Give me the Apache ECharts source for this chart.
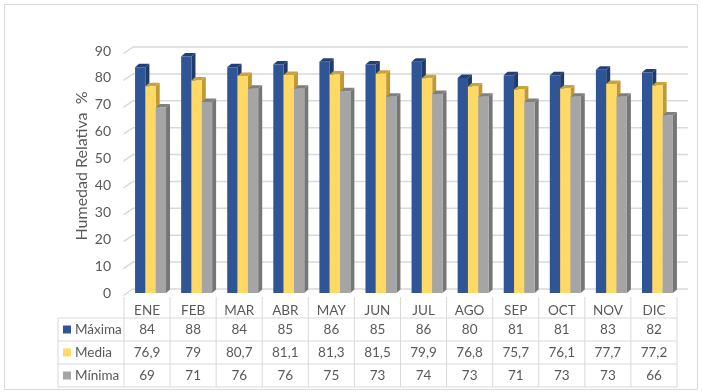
<!DOCTYPE html>
<html><head><meta charset="utf-8">
<script src="https://cdn.jsdelivr.net/npm/echarts@6/dist/echarts.min.js"></script>
<style>html,body{margin:0;padding:0;background:#fff}#c{width:702px;height:392px}</style>
</head><body><div id="c"></div>
<script>
var categories = ['ENE','FEB','MAR','ABR','MAY','JUN','JUL','AGO','SEP','OCT','NOV','DIC'];
var maxima = [84,88,84,85,86,85,86,80,81,81,83,82];
var media  = [76.9,79,80.7,81.1,81.3,81.5,79.9,76.8,75.7,76.1,77.7,77.2];
var minima = [69,71,76,76,75,73,74,73,71,73,73,66];
var seriesNames = ['Máxima','Media','Mínima'];
var yTicks = [0,10,20,30,40,50,60,70,80,90];

var FRONT = ['#2F5597','#FFD966','#A5A5A5'];
var SIDE  = ['#1F3A6B','#BF9A33','#767676'];
var TOP   = ['#243F73','#C9A43C','#808080'];
var TXT = '#595959', LINE = '#D9D9D9';
var FONT = 'Lato';
var allData = [maxima, media, minima];
function fmt(v){ return String(v).replace('.', ','); }

var chart = echarts.init(document.getElementById('c'));

function barRender(k){
  return function(params, api){
    var i = api.value(0), v = api.value(1);
    var top = api.coord([i, v]), base = api.coord([i, 0]);
    var cw = api.size([1, 0])[0];
    var w = cw * 0.224;
    var x0 = top[0] - cw * 0.26 + k * w;
    var dx = 4, dy = 3.5;
    var y0 = top[1], y1 = base[1];
    return {type:'group', children:[
      {type:'polygon', shape:{points:[[x0+w,y0],[x0+w+dx,y0-dy],[x0+w+dx,y1-dy],[x0+w,y1]]}, style:{fill:SIDE[k]}},
      {type:'polygon', shape:{points:[[x0,y0],[x0+dx,y0-dy],[x0+w+dx,y0-dy],[x0+w,y0]]}, style:{fill:TOP[k]}},
      {type:'rect', shape:{x:x0, y:y0, width:w, height:y1-y0}, style:{fill:FRONT[k]}}
    ]};
  };
}

function gridRender(params, api){
  var cs = params.coordSys;
  var y = api.coord([0, api.value(0)])[1];
  var x = cs.x, xr = cs.x + cs.width;
  return {type:'polyline', shape:{points:[[x-0.5, y+2.5],[x+9, y-4],[xr+11, y-4]]},
    style:{stroke:LINE, lineWidth:1.5, fill:null}, silent:true};
}

function tableRender(params, api){
  var i = api.value(0);
  var c = api.coord([i, 0]);
  var cw = api.size([1, 0])[0];
  var xl = c[0] - cw/2, xr = c[0] + cw/2;
  var b = c[1];
  var rows = [b+25, b+48, b+71, b+94];
  var ch = [];
  ch.push({type:'line', shape:{x1:xr, y1:b+4, x2:xr, y2:rows[3]}, style:{stroke:LINE, lineWidth:1}});
  if (i === 0) {
    ch.push({type:'line', shape:{x1:xl, y1:b+4, x2:xl, y2:rows[3]}, style:{stroke:LINE, lineWidth:1}});
    var lx = xl - 66;
    ch.push({type:'line', shape:{x1:lx, y1:rows[0], x2:lx, y2:rows[3]}, style:{stroke:LINE, lineWidth:1}});
    for (var r = 0; r < 4; r++) {
      ch.push({type:'line', shape:{x1:lx, y1:rows[r], x2:xl, y2:rows[r]}, style:{stroke:LINE, lineWidth:1}});
    }
    for (var k = 0; k < 3; k++) {
      var cy = (rows[k] + rows[k+1]) / 2;
      ch.push({type:'rect', shape:{x:lx+5, y:cy-4, width:8, height:8}, style:{fill:FRONT[k]}});
      ch.push({type:'text', style:{x:lx+17, y:cy, text:seriesNames[k], fill:TXT, font:'13.5px '+FONT, textAlign:'left', textVerticalAlign:'middle'}});
    }
  }
  for (var r2 = 0; r2 < 4; r2++) {
    ch.push({type:'line', shape:{x1:xl, y1:rows[r2], x2:xr, y2:rows[r2]}, style:{stroke:LINE, lineWidth:1}});
  }
  for (var k2 = 0; k2 < 3; k2++) {
    var cy2 = (rows[k2] + rows[k2+1]) / 2;
    ch.push({type:'text', style:{x:c[0], y:cy2, text:fmt(allData[k2][i]), fill:TXT, font:'13.5px '+FONT, textAlign:'center', textVerticalAlign:'middle'}});
  }
  return {type:'group', children:ch, silent:true};
}

var series = [];
series.push({type:'custom', renderItem:gridRender, data:yTicks.map(function(t){return [t];}), encode:{y:0}, z:1, clip:false, silent:true});
for (var k = 0; k < 3; k++) {
  series.push({type:'custom', name:seriesNames[k], renderItem:barRender(k),
    data: allData[k].map(function(v, i){ return [i, v]; }), encode:{x:0, y:1}, z:2+k, clip:false});
}
series.push({type:'custom', renderItem:tableRender, data:categories.map(function(c, i){ return [i]; }), encode:{x:0}, z:10, clip:false, silent:true});

chart.setOption({
  animation:false,
  backgroundColor:'#fff',
  textStyle:{fontFamily:FONT},
  graphic:[{type:'rect', shape:{x:4.5, y:4.5, width:693, height:385}, style:{fill:null, stroke:LINE, lineWidth:1}, silent:true}],
  grid:{left:124, right:25, top:51, bottom:99},
  xAxis:{type:'category', data:categories, axisLine:{show:false}, axisTick:{show:false}, splitLine:{show:false},
    axisLabel:{color:TXT, fontSize:13.5, fontFamily:FONT, margin:11}},
  yAxis:{type:'value', min:0, max:90, interval:10,
    name:'Humedad Relativa  %', nameLocation:'middle', nameGap:34, nameRotate:90, nameMoveOverlap:false,
    nameTextStyle:{color:TXT, fontSize:16, fontFamily:FONT, padding:[0,0,0,12]},
    axisLine:{show:false}, axisTick:{show:false}, splitLine:{show:false},
    axisLabel:{color:TXT, fontSize:14, fontFamily:FONT, margin:13, padding:[7,0,0,0]}},
  series:series
});
</script></body></html>
